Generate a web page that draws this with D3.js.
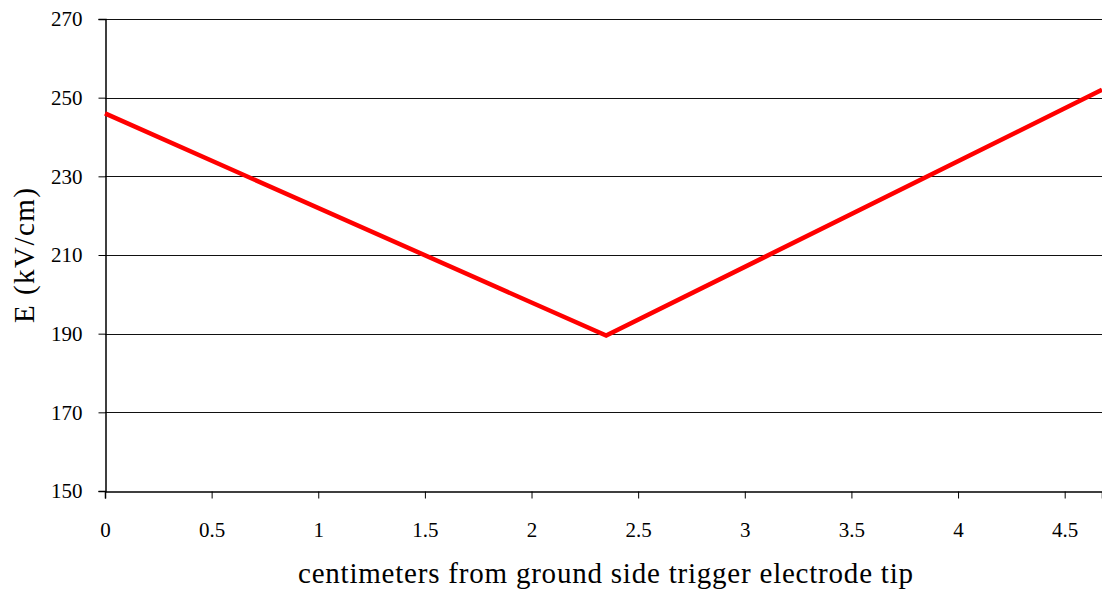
<!DOCTYPE html>
<html>
<head>
<meta charset="utf-8">
<script src="https://cdn.jsdelivr.net/npm/d3@7"></script>
<style>
  svg text { font-family: "Times New Roman", "Liberation Serif", serif !important; }
</style>
</head>
<body style="margin:0">
<svg id="s" width="1102" height="592"></svg>
<script>
// Electric field along the gap, measured from the ground-side trigger electrode tip
const positions = [0, 2.35, 4.675];
const fieldValues = [246, 189.5, 252];
const xTicks = [0, 0.5, 1, 1.5, 2, 2.5, 3, 3.5, 4, 4.5];
const yTicks = [150, 170, 190, 210, 230, 250, 270];

const svg = d3.select("#s");
const margin = { left: 105, right: 0, top: 19, bottom: 101 };
const W = 1102, H = 592;
const plotW = W - margin.left - margin.right;
const plotH = H - margin.top - margin.bottom;

const x = d3.scaleLinear().domain([0, 4.675]).range([margin.left, margin.left + plotW]);
const y = d3.scaleLinear().domain([150, 270]).range([margin.top + plotH, margin.top]);

// horizontal gridlines
svg.append("g")
  .selectAll("line")
  .data(yTicks.filter(v => v > 150))
  .join("line")
  .attr("x1", margin.left).attr("x2", W)
  .attr("y1", d => Math.round(y(d)) + 0.5).attr("y2", d => Math.round(y(d)) + 0.5)
  .attr("stroke", "#111").attr("stroke-width", 1);

// y axis
const yAxis = svg.append("g")
  .attr("transform", `translate(${margin.left + 0.5},0)`)
  .call(d3.axisLeft(y).tickValues(yTicks).tickSize(7).tickPadding(16).tickFormat(d3.format("d")));
yAxis.attr("font-family", "Times New Roman").attr("font-size", 21);
yAxis.select(".domain").attr("stroke", "#000").attr("stroke-width", 1.5);
yAxis.selectAll(".tick line").attr("stroke", "#000");
yAxis.selectAll(".tick text").attr("dy", "0.33em").attr("fill", "#000");

// x axis
const xAxis = svg.append("g")
  .attr("transform", `translate(0,${Math.round(y(150)) + 0.5})`)
  .call(d3.axisBottom(x).tickValues(xTicks).tickSize(7).tickPadding(24).tickFormat(d => d3.format("")(d)));
xAxis.attr("font-family", "Times New Roman").attr("font-size", 21);
xAxis.select(".domain").attr("stroke", "#000").attr("stroke-width", 1.5);
xAxis.selectAll(".tick line").attr("stroke", "#000");
xAxis.selectAll(".tick text").attr("fill", "#000");

// field profile
const pts = positions.map((p, i) => [p, fieldValues[i]]);
svg.append("path")
  .datum(pts)
  .attr("fill", "none")
  .attr("stroke", "#ff0000")
  .attr("stroke-width", 4.5)
  .attr("stroke-linejoin", "miter")
  .attr("d", d3.line().x(d => x(d[0])).y(d => y(d[1])));

// axis titles
svg.append("text")
  .attr("x", 298)
  .attr("y", 583)
  .attr("font-family", "Times New Roman")
  .attr("font-size", 29)
  .attr("textLength", 615)
  .attr("lengthAdjust", "spacing")
  .text("centimeters from ground side trigger electrode tip");

svg.append("text")
  .attr("transform", "translate(34,323) rotate(-90)")
  .attr("font-family", "Times New Roman")
  .attr("font-size", 29)
  .attr("textLength", 135)
  .attr("lengthAdjust", "spacing")
  .text("E (kV/cm)");
</script>
</body>
</html>
